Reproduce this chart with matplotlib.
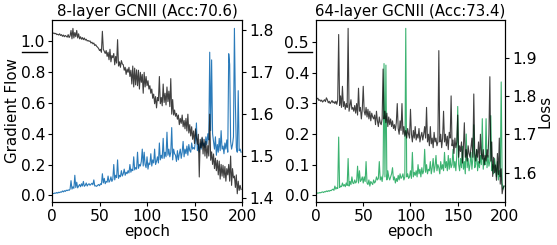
import numpy as np
import matplotlib
matplotlib.use("Agg")
import matplotlib.pyplot as plt
from matplotlib.lines import Line2D

epochs = np.arange(200)

grad_8 = [
    0.010, 0.012, 0.011, 0.015, 0.013, 0.018, 0.014, 0.020, 0.017, 0.022,
    0.020, 0.028, 0.022, 0.030, 0.025, 0.033, 0.030, 0.035, 0.032, 0.040,
    0.095, 0.040, 0.055, 0.045, 0.130, 0.050, 0.085, 0.048, 0.060, 0.070,
    0.055, 0.075, 0.060, 0.090, 0.058, 0.065, 0.080, 0.060, 0.070, 0.075,
    0.065, 0.072, 0.078, 0.068, 0.100, 0.060, 0.062, 0.058, 0.065, 0.070,
    0.062, 0.075, 0.070, 0.140, 0.080, 0.110, 0.075, 0.090, 0.085, 0.125,
    0.085, 0.095, 0.120, 0.090, 0.105, 0.200, 0.100, 0.130, 0.115, 0.230,
    0.110, 0.130, 0.120, 0.160, 0.125, 0.140, 0.170, 0.130, 0.150, 0.140,
    0.160, 0.145, 0.200, 0.150, 0.170, 0.160, 0.250, 0.165, 0.180, 0.170,
    0.280, 0.175, 0.200, 0.190, 0.220, 0.300, 0.190, 0.280, 0.200, 0.180,
    0.250, 0.170, 0.210, 0.200, 0.270, 0.190, 0.230, 0.210, 0.300, 0.200,
    0.220, 0.250, 0.210, 0.340, 0.230, 0.260, 0.240, 0.370, 0.240, 0.280,
    0.250, 0.410, 0.260, 0.300, 0.250, 0.280, 0.440, 0.230, 0.300, 0.270,
    0.260, 0.220, 0.290, 0.230, 0.270, 0.300, 0.240, 0.280, 0.350, 0.250,
    0.300, 0.270, 0.320, 0.260, 0.330, 0.290, 0.280, 0.340, 0.300, 0.310,
    0.300, 0.360, 0.470, 0.290, 0.330, 0.280, 0.340, 0.300, 0.370, 0.320,
    0.340, 0.310, 0.380, 0.330, 0.400, 0.360, 0.930, 0.420, 0.880, 0.400,
    0.350, 0.300, 0.380, 0.260, 0.330, 0.280, 0.370, 0.290, 0.420, 0.300,
    0.320, 0.270, 0.340, 0.300, 0.360, 0.280, 0.920, 0.850, 0.350, 0.300,
    0.330, 0.380, 1.085, 0.600, 0.310, 0.280, 0.680, 0.290, 0.300, 0.280,
]

loss_8 = [
    1.795, 1.793, 1.794, 1.792, 1.793, 1.790, 1.791, 1.789, 1.792, 1.788,
    1.790, 1.786, 1.789, 1.785, 1.788, 1.786, 1.784, 1.790, 1.783, 1.787,
    1.800, 1.780, 1.805, 1.782, 1.795, 1.785, 1.800, 1.782, 1.792, 1.780,
    1.785, 1.779, 1.783, 1.778, 1.782, 1.777, 1.779, 1.775, 1.776, 1.774,
    1.775, 1.770, 1.772, 1.768, 1.770, 1.764, 1.766, 1.762, 1.760, 1.757,
    1.752, 1.755, 1.748, 1.798, 1.755, 1.750, 1.745, 1.752, 1.738, 1.748,
    1.730, 1.755, 1.725, 1.740, 1.735, 1.745, 1.718, 1.738, 1.722, 1.778,
    1.715, 1.725, 1.712, 1.728, 1.720, 1.718, 1.705, 1.712, 1.695, 1.708,
    1.700, 1.712, 1.690, 1.705, 1.672, 1.715, 1.665, 1.710, 1.670, 1.706,
    1.668, 1.705, 1.660, 1.700, 1.676, 1.695, 1.650, 1.700, 1.665, 1.690,
    1.668, 1.680, 1.660, 1.668, 1.650, 1.660, 1.638, 1.648, 1.625, 1.642,
    1.615, 1.640, 1.632, 1.690, 1.625, 1.640, 1.620, 1.672, 1.628, 1.650,
    1.622, 1.665, 1.630, 1.655, 1.618, 1.685, 1.600, 1.635, 1.598, 1.610,
    1.595, 1.602, 1.588, 1.598, 1.575, 1.590, 1.578, 1.598, 1.570, 1.585,
    1.565, 1.590, 1.560, 1.600, 1.555, 1.575, 1.548, 1.570, 1.540, 1.560,
    1.530, 1.565, 1.545, 1.528, 1.552, 1.450, 1.540, 1.520, 1.545, 1.505,
    1.540, 1.500, 1.535, 1.495, 1.525, 1.500, 1.600, 1.490, 1.510, 1.480,
    1.505, 1.470, 1.495, 1.465, 1.490, 1.455, 1.488, 1.445, 1.480, 1.452,
    1.478, 1.448, 1.475, 1.440, 1.470, 1.455, 1.480, 1.440, 1.500, 1.430,
    1.470, 1.448, 1.452, 1.425, 1.455, 1.410, 1.440, 1.418, 1.430, 1.420,
]

grad_64 = [
    0.005, 0.006, 0.008, 0.007, 0.009, 0.008, 0.010, 0.011, 0.009, 0.012,
    0.011, 0.014, 0.012, 0.015, 0.013, 0.016, 0.015, 0.018, 0.020, 0.016,
    0.030, 0.020, 0.025, 0.022, 0.190, 0.025, 0.030, 0.028, 0.040, 0.030,
    0.035, 0.028, 0.040, 0.032, 0.120, 0.030, 0.045, 0.035, 0.060, 0.040,
    0.038, 0.050, 0.040, 0.045, 0.095, 0.040, 0.080, 0.045, 0.050, 0.060,
    0.040, 0.060, 0.045, 0.110, 0.040, 0.035, 0.050, 0.030, 0.045, 0.040,
    0.035, 0.050, 0.040, 0.045, 0.060, 0.050, 0.055, 0.110, 0.050, 0.060,
    0.045, 0.070, 0.430, 0.060, 0.425, 0.050, 0.080, 0.060, 0.050, 0.060,
    0.070, 0.090, 0.050, 0.060, 0.040, 0.055, 0.045, 0.065, 0.050, 0.070,
    0.055, 0.060, 0.070, 0.050, 0.060, 0.545, 0.060, 0.070, 0.055, 0.060,
    0.080, 0.055, 0.140, 0.060, 0.075, 0.065, 0.080, 0.060, 0.100, 0.070,
    0.085, 0.060, 0.090, 0.070, 0.080, 0.150, 0.075, 0.100, 0.070, 0.085,
    0.080, 0.110, 0.070, 0.090, 0.120, 0.075, 0.095, 0.130, 0.080, 0.100,
    0.090, 0.070, 0.110, 0.085, 0.100, 0.080, 0.140, 0.090, 0.110, 0.080,
    0.130, 0.085, 0.120, 0.090, 0.100, 0.150, 0.090, 0.110, 0.080, 0.130,
    0.290, 0.100, 0.080, 0.120, 0.090, 0.160, 0.085, 0.110, 0.070, 0.200,
    0.090, 0.120, 0.080, 0.100, 0.140, 0.085, 0.120, 0.230, 0.090, 0.100,
    0.150, 0.080, 0.110, 0.090, 0.130, 0.100, 0.250, 0.085, 0.120, 0.100,
    0.250, 0.090, 0.130, 0.095, 0.110, 0.260, 0.080, 0.100, 0.070, 0.120,
    0.090, 0.060, 0.110, 0.050, 0.080, 0.060, 0.370, 0.040, 0.020, 0.030,
]

loss_64 = [
    1.795, 1.792, 1.794, 1.788, 1.790, 1.786, 1.789, 1.784, 1.787, 1.790,
    1.785, 1.795, 1.790, 1.782, 1.786, 1.780, 1.784, 1.788, 1.782, 1.785,
    1.780, 1.786, 1.778, 1.790, 1.960, 1.775, 1.800, 1.770, 1.825, 1.772,
    1.785, 1.765, 1.780, 1.770, 1.976, 1.760, 1.775, 1.790, 1.765, 1.770,
    1.760, 1.775, 1.755, 1.780, 1.750, 1.820, 1.760, 1.770, 1.740, 1.765,
    1.825, 1.760, 1.750, 1.770, 1.745, 1.765, 1.740, 1.760, 1.735, 1.755,
    1.745, 1.740, 1.750, 1.725, 1.760, 1.735, 1.720, 1.745, 1.730, 1.725,
    1.740, 1.870, 1.740, 1.760, 1.730, 1.755, 1.720, 1.745, 1.725, 1.740,
    1.720, 1.735, 1.715, 1.725, 1.710, 1.730, 1.780, 1.715, 1.700, 1.735,
    1.710, 1.780, 1.700, 1.720, 1.695, 1.710, 1.690, 1.715, 1.700, 1.690,
    1.765, 1.700, 1.680, 1.710, 1.690, 1.720, 1.685, 1.700, 1.690, 1.715,
    1.680, 1.695, 1.705, 1.685, 1.700, 1.720, 1.690, 1.770, 1.680, 1.700,
    1.670, 1.720, 1.675, 1.690, 1.665, 1.705, 1.680, 1.690, 1.670, 1.680,
    1.918, 1.680, 1.700, 1.665, 1.690, 1.760, 1.680, 1.700, 1.670, 1.695,
    1.660, 1.705, 1.690, 1.800, 1.670, 1.685, 1.650, 1.690, 1.665, 1.680,
    1.750, 1.640, 1.670, 1.655, 1.680, 1.625, 1.665, 1.730, 1.640, 1.660,
    1.630, 1.670, 1.650, 1.640, 1.665, 1.690, 1.640, 1.805, 1.650, 1.630,
    1.660, 1.640, 1.680, 1.625, 1.700, 1.650, 1.635, 1.660, 1.620, 1.645,
    1.630, 1.660, 1.640, 1.700, 1.850, 1.630, 1.680, 1.590, 1.640, 1.600,
    1.620, 1.580, 1.650, 1.595, 1.690, 1.570, 1.610, 1.545, 1.560, 1.565,
]

titles = ["8-layer GCNII (Acc:70.6)", "64-layer GCNII (Acc:73.4)"]
xticks = [0, 50, 100, 150, 200]

TICK_FS = 11.2
LAB_FS = 10.8
TITLE_FS = 10.8
plt.rcParams['font.family'] = ['DejaVu Sans']

fig = plt.figure(figsize=(5.57, 2.45), dpi=100)
ax1 = fig.add_axes([0.0934, 0.1755, 0.3411, 0.7425])
ax2 = fig.add_axes([0.5673, 0.1755, 0.3393, 0.7425])

panels = [(ax1, grad_8, loss_8, '#2b7bba', titles[0]),
          (ax2, grad_64, loss_64, '#3cb371', titles[1])]

for i, (ax, g, l, c, t) in enumerate(panels):
    ax.plot(epochs, g, color=c, lw=0.8)
    tw = ax.twinx()
    tw.plot(epochs, l, color='black', lw=0.8, alpha=0.75)
    ax.set_xlim(0, 200)
    ax.set_xticks(xticks)
    ax.set_title(t, fontsize=TITLE_FS, pad=3)
    ax.set_xlabel('epoch', fontsize=LAB_FS, labelpad=0)
    ax.tick_params(labelsize=TICK_FS, length=3, pad=2)
    tw.tick_params(labelsize=TICK_FS, length=3, pad=2)
    if i == 0:
        ax.set_ylabel('Gradient Flow', fontsize=LAB_FS, labelpad=0.5)
        ax.set_yticks([0.0, 0.2, 0.4, 0.6, 0.8, 1.0])
    else:
        tw.set_ylabel('Loss', fontsize=LAB_FS, labelpad=0.5)
        ax.set_yticks([0.0, 0.1, 0.2, 0.3, 0.4, 0.5])

# underline marks beneath the top tick labels
fig.add_artist(Line2D([22/557, 47/557], [1 - 52/245, 1 - 52/245], color='black', lw=1.0))
fig.add_artist(Line2D([288/557, 312/557], [1 - 52/245, 1 - 52/245], color='black', lw=1.0))

fig.savefig('out.png', dpi=100)
